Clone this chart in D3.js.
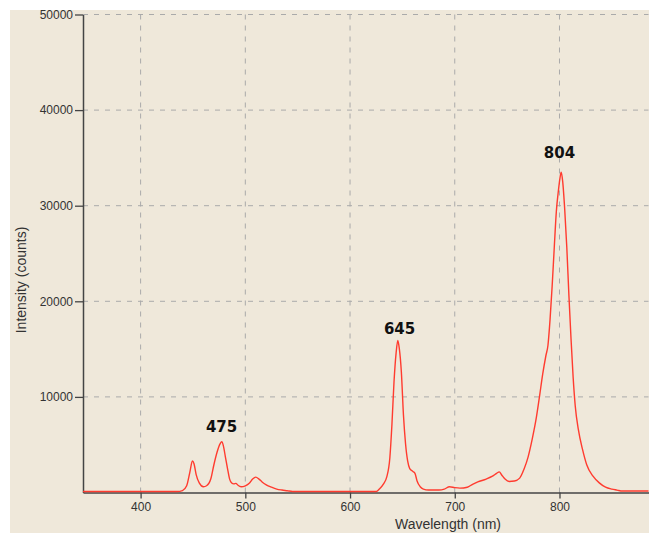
<!DOCTYPE html>
<html lang="en">
<head>
<meta charset="UTF-8">
<script src="https://d3js.org/d3.v7.min.js"></script>
<style>
  body { margin: 0; background: #fff; }
  text { font-family: Arial, "Liberation Sans", sans-serif; }
</style>
</head>
<body>
<div id="visualization"></div>
<script>
// spectrum
const wavelength = [345, 435, 440, 444, 447, 449.5, 451, 453, 456, 460, 463, 467, 470, 473, 476, 477.5, 479, 481, 483, 485, 487, 489, 491, 493, 496, 500, 504, 507, 510, 513, 516, 520, 525, 530, 535, 540, 545,
  625, 628, 632, 635, 638, 640, 642, 644, 645.6, 647, 649, 651, 653, 655, 657, 660, 662, 664, 667, 670, 675, 685, 690, 695, 700, 705, 712, 717, 722, 730, 736, 740, 742.5, 745, 748, 752, 757, 762, 766, 770, 774, 778, 781, 784, 787, 789, 791, 793, 795, 797, 799, 800.5, 801.6, 803, 805, 807, 809, 811, 813, 815, 818, 822, 826, 832, 838, 844, 850, 855, 860, 885];
const intensity = [0, 0, 100, 600, 2000, 3200, 2900, 1800, 900, 500, 600, 1300, 2800, 4100, 5000, 5200, 4800, 3600, 2400, 1300, 900, 800, 850, 650, 500, 600, 900, 1300, 1500, 1300, 1000, 700, 450, 250, 150, 80, 0,
  0, 260, 800, 1500, 3500, 7000, 11500, 14500, 15800, 15000, 12500, 8000, 5000, 3200, 2400, 2100, 1900, 1100, 500, 250, 150, 150, 250, 500, 400, 350, 450, 750, 1000, 1300, 1600, 1900, 2050, 1700, 1300, 1050, 1100, 1400, 2300, 3600, 5500, 7800, 10000, 12300, 14200, 15300, 18000, 21500, 25500, 29300, 31500, 32800, 33400, 32500, 29500, 25500, 20500, 16000, 12000, 9000, 6500, 4400, 2800, 1600, 900, 450, 250, 150, 50, 50];

const xTicks = [400, 500, 600, 700, 800];
const yTicks = [10000, 20000, 30000, 40000, 50000];

const peakLabels = ["475", "645", "804"];
const peakX = [477.3, 647.3, 800];
const peakY = [6330, 16580, 35000];

const svgWidth = 649, svgHeight = 533;
const margin = { top: 14.5, right: 0.5, bottom: 40.5, left: 83 };

const svg = d3.select('#visualization').append('svg')
    .attr('width', svgWidth)
    .attr('height', svgHeight);

svg.append('rect')
    .attr('x', 10).attr('y', 10)
    .attr('width', svgWidth - 10).attr('height', svgHeight - 10)
    .attr('fill', '#efe8da');

const x = d3.scaleLinear().domain([345, 885]).range([margin.left, svgWidth - margin.right]);
const y = d3.scaleLinear().domain([0, 50000]).range([svgHeight - margin.bottom, margin.top]);

// grid
svg.append('g').selectAll('line')
    .data(xTicks).enter().append('line')
    .attr('x1', d => x(d)).attr('x2', d => x(d))
    .attr('y1', y(0)).attr('y2', y(50000))
    .attr('stroke', '#aaa').attr('stroke-dasharray', '5,6');
svg.append('g').selectAll('line')
    .data(yTicks).enter().append('line')
    .attr('x1', x(345)).attr('x2', x(885))
    .attr('y1', d => y(d)).attr('y2', d => y(d))
    .attr('stroke', '#aaa').attr('stroke-dasharray', '5,6');

// axes
const xAxis = svg.append('g')
    .attr('transform', 'translate(0,' + y(0) + ')')
    .call(d3.axisBottom(x).tickValues(xTicks).tickSize(6).tickSizeOuter(0).tickPadding(4));
const yAxis = svg.append('g')
    .attr('transform', 'translate(' + x(345) + ',0)')
    .call(d3.axisLeft(y).tickValues(yTicks).tickFormat(d3.format('d')).tickSize(8).tickSizeOuter(0).tickPadding(2));
[xAxis, yAxis].forEach(a => {
  a.select('.domain').attr('stroke', '#444').attr('stroke-width', 1.5);
  a.selectAll('.tick line').attr('stroke', '#444').attr('stroke-width', 1.3);
  a.selectAll('.tick text').attr('fill', '#333').style('font-size', '12px');
});

// spectrum
const pts = wavelength.map((w, i) => [w, intensity[i]]);
svg.append('path')
    .datum(pts)
    .attr('fill', 'none')
    .attr('stroke', '#ff3b2f')
    .attr('stroke-width', 1.4)
    .attr('d', d3.line().x(d => x(d[0])).y(d => y(d[1]) - 1).curve(d3.curveMonotoneX));

// peak labels
svg.append('g').selectAll('text')
    .data(peakLabels).enter().append('text')
    .attr('x', (d, i) => x(peakX[i]))
    .attr('y', (d, i) => y(peakY[i]))
    .attr('text-anchor', 'middle')
    .attr('fill', '#111')
    .style('font-family', '"DejaVu Sans", sans-serif')
    .style('font-size', '15px')
    .style('font-weight', 'bold')
    .text(d => d);

// axis titles
svg.append('text')
    .attr('x', 448).attr('y', 529)
    .attr('text-anchor', 'middle')
    .attr('fill', '#333')
    .style('font-size', '14px')
    .text('Wavelength (nm)');
svg.append('text')
    .attr('transform', 'translate(26,280) rotate(-90)')
    .attr('text-anchor', 'middle')
    .attr('fill', '#333')
    .style('font-size', '14px')
    .text('Intensity (counts)');
</script>
</body>
</html>
